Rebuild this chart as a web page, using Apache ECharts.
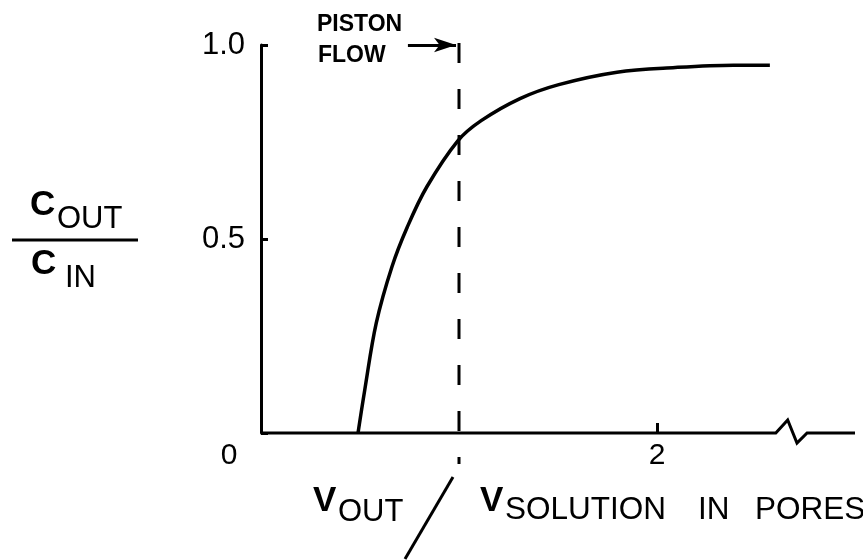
<!DOCTYPE html>
<html>
<head>
<meta charset="utf-8">
<title>Breakthrough curve</title>
<script src="https://cdn.jsdelivr.net/npm/echarts@6/dist/echarts.min.js"></script>
<style>
  html, body { margin: 0; padding: 0; background: #fff; }
  #chart { width: 863px; height: 560px; }
</style>
</head>
<body>
<div id="chart"></div>
<script>
// Effluent volume / pore-solution volume, and relative concentration C_out / C_in
const poreVolumes = [0.49, 0.524, 0.582, 0.661, 0.739, 0.837, 0.994, 1.112, 1.308, 1.504, 1.798, 2.092, 2.386, 2.57];
const relConc     = [0,    0.111, 0.283, 0.428, 0.531, 0.634, 0.753, 0.805, 0.862, 0.898, 0.93,  0.942, 0.948, 0.948];

// Piston-flow reference volume (one pore volume)
const pistonVolume = [1];

// Horizontal axis with a broken segment before its end
const axisLineX = [0, 2.60, 2.66, 2.707, 2.758, 3];
const axisLineY = [0, 0,    0.0335, -0.026, 0,  0];

// Tick labels
const xTickValues = [0, 2];
const xTickLabels = ['0', '2'];
const yTickValues = [0.5, 1.0];
const yTickLabels = ['0.5', '1.0'];

const FONT = '"Liberation Sans", Arial, sans-serif';
const INK = '#000';

const chart = echarts.init(document.getElementById('chart'), null, { renderer: 'canvas' });

const curveData = poreVolumes.map((x, i) => [x, relConc[i]]);
const axisData = axisLineX.map((x, i) => [x, axisLineY[i]]);
const pistonData = [[pistonVolume[0], 1.005], [pistonVolume[0], -0.08]];

function txt(text, x, y, size, weight) {
  return {
    type: 'text', x: x, y: y, silent: true,
    style: {
      text: text, fill: INK,
      font: (weight || 'normal') + ' ' + size + 'px ' + FONT,
      align: 'left', verticalAlign: 'middle',
      textAlign: 'left', textVerticalAlign: 'middle'
    }
  };
}

const option = {
  animation: false,
  backgroundColor: '#fff',
  grid: { left: 261, right: 8, top: 45, bottom: 127 },
  xAxis: {
    type: 'value', min: 0, max: 3, interval: 1,
    axisLine: { show: false },
    splitLine: { show: false },
    axisTick: {
      show: true, inside: true, length: 10, customValues: [2],
      lineStyle: { color: INK, width: 3 }
    },
    axisLabel: {
      customValues: xTickValues,
      margin: 8,
      color: INK, fontSize: 30, fontFamily: FONT,
      formatter: function (v) {
        const i = xTickValues.indexOf(v);
        if (i < 0) return '';
        return v === 0 ? '{o|' + xTickLabels[i] + '}' : '{n|' + xTickLabels[i] + '}';
      },
      rich: {
        o: { color: INK, fontSize: 30, fontFamily: FONT, padding: [0, 64, 0, 0] },
        n: { color: INK, fontSize: 30, fontFamily: FONT }
      }
    }
  },
  yAxis: {
    type: 'value', min: 0, max: 1, interval: 0.5,
    axisLine: { show: true, lineStyle: { color: INK, width: 3 } },
    splitLine: { show: false },
    axisTick: { show: true, inside: true, length: 7, lineStyle: { color: INK, width: 3 } },
    axisLabel: {
      margin: 16, color: INK, fontSize: 31, fontFamily: FONT,
      formatter: function (v) {
        const i = yTickValues.findIndex(t => Math.abs(t - v) < 1e-9);
        return i < 0 ? '' : yTickLabels[i];
      }
    }
  },
  series: [
    {
      name: 'axis', type: 'line', data: axisData, clip: false, silent: true,
      symbol: 'none', lineStyle: { color: INK, width: 3, join: 'miter' }
    },
    {
      name: 'piston', type: 'line', data: pistonData, clip: false, silent: true,
      symbol: 'none', lineStyle: { color: INK, width: 3, type: [20, 26] },
      markLine: {
        silent: true, symbol: ['none', 'arrow'], symbolSize: [11, 22],
        label: { show: false },
        lineStyle: { color: INK, width: 3, type: 'solid' },
        emphasis: { disabled: true },
        data: [[{ coord: [0.742, 1.0] }, { coord: [0.985, 1.0] }]]
      }
    },
    {
      name: 'C_out/C_in', type: 'line', data: curveData, clip: false, silent: true,
      symbol: 'none', smooth: 0.35,
      lineStyle: { color: INK, width: 3.5 }
    }
  ],
  graphic: [
    txt('PISTON', 317, 25, 23, 'bold'),
    txt('FLOW', 318, 56, 23, 'bold'),
    // y-axis quantity as a fraction
    txt('C', 30, 205, 35, 'bold'),
    txt('OUT', 57, 219, 31),
    { type: 'line', silent: true, shape: { x1: 12, y1: 240, x2: 138, y2: 240 }, style: { stroke: INK, lineWidth: 3 } },
    txt('C', 31, 264, 35, 'bold'),
    txt('IN', 65, 278, 31),
    // x-axis quantity
    txt('V', 313, 501, 35, 'bold'),
    txt('OUT', 338, 512, 31),
    { type: 'line', silent: true, shape: { x1: 453, y1: 477, x2: 405, y2: 559 }, style: { stroke: INK, lineWidth: 3 } },
    txt('V', 480, 501, 35, 'bold'),
    txt('SOLUTION', 505, 510, 31.5),
    txt('IN', 698, 510, 31.5),
    txt('PORES', 755, 510, 31.5)
  ]
};

chart.setOption(option);
</script>
</body>
</html>
